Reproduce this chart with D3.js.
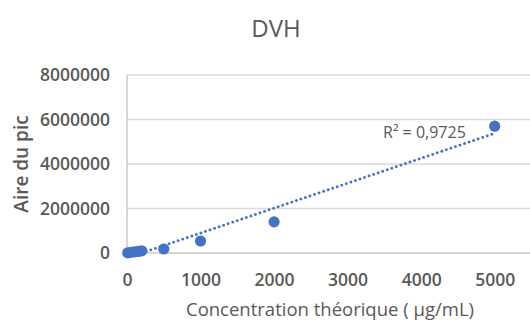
<!DOCTYPE html>
<html>
<head>
<meta charset="utf-8">
<script src="https://cdn.jsdelivr.net/npm/d3@7/dist/d3.min.js"></script>
<style>
  html, body { margin: 0; padding: 0; background: #fff; }
  svg { display: block; font-family: "Open Sans", "Liberation Sans", sans-serif; }
</style>
</head>
<body>
<svg id="chart" width="530" height="323"></svg>
<script>
// Calibration: theoretical concentration (µg/mL) vs. peak area
const concentrations = [10, 50, 100, 150, 200, 500, 1000, 2000, 5000];
const peakAreas = [10000, 30000, 50000, 70000, 100000, 180000, 540000, 1400000, 5700000];
const xTicks = [0, 1000, 2000, 3000, 4000, 5000];
const yTicks = [0, 2000000, 4000000, 6000000, 8000000];
const xMax = 5480;
const yMax = 8000000;
const r2Label = "R² = 0,9725";

const svg = d3.select("#chart");
const margin = { left: 127, right: 0, top: 75, bottom: 70 };
const W = 530, H = 323;
const x = d3.scaleLinear().domain([0, xMax]).range([margin.left, W - margin.right]);
const y = d3.scaleLinear().domain([0, yMax]).range([H - margin.bottom, margin.top]);
const textCol = "#595959";
const blue = "#4472C4";

// Title
svg.append("text").attr("x", 276).attr("y", 37).attr("text-anchor", "middle")
  .attr("font-size", 24).attr("fill", textCol).text("DVH");

// Horizontal gridlines
svg.append("g").selectAll("line").data(yTicks.filter(d => d > 0)).join("line")
  .attr("x1", x(0)).attr("x2", x(xMax))
  .attr("y1", d => y(d)).attr("y2", d => y(d))
  .attr("stroke", "#d9d9d9").attr("stroke-width", 1.3);

// Axes
const fmt = d3.format("d");
const xAxis = d3.axisBottom(x).tickValues(xTicks).tickFormat(fmt).tickSize(0).tickPadding(21);
const yAxis = d3.axisLeft(y).tickValues(yTicks).tickFormat(fmt).tickSize(0).tickPadding(17);
const gx = svg.append("g").attr("transform", `translate(0,${y(0)})`).call(xAxis);
const gy = svg.append("g").attr("transform", `translate(${x(0)},0)`).call(yAxis);
[gx, gy].forEach(g => {
  g.select(".domain").attr("stroke", "#c8c8c8").attr("stroke-width", 1.4);
  g.selectAll("text").attr("font-size", 17.5).attr("font-weight", 600)
    .attr("fill", textCol).attr("font-family", "'Open Sans', sans-serif");
});
gx.select(".domain").attr("d", `M${x(0)},0H${x(xMax)}`);
gy.select(".domain").attr("d", `M0,${y(yMax)}V${y(0)}`);

// Linear least-squares trendline
const n = concentrations.length;
const mx = d3.mean(concentrations), my = d3.mean(peakAreas);
let sxy = 0, sxx = 0;
for (let i = 0; i < n; i++) {
  sxy += (concentrations[i] - mx) * (peakAreas[i] - my);
  sxx += (concentrations[i] - mx) ** 2;
}
const slope = sxy / sxx, intercept = my - slope * mx;
const xStart = Math.max(d3.min(concentrations), -intercept / slope);
const xEnd = d3.max(concentrations);

svg.append("line")
  .attr("x1", x(xStart)).attr("y1", y(slope * xStart + intercept))
  .attr("x2", x(xEnd)).attr("y2", y(slope * xEnd + intercept))
  .attr("stroke", blue).attr("stroke-width", 2.8)
  .attr("stroke-dasharray", "0.1,4.7").attr("stroke-linecap", "round");

// Data points
svg.append("g").selectAll("circle").data(concentrations).join("circle")
  .attr("cx", d => x(d)).attr("cy", (d, i) => y(peakAreas[i]))
  .attr("r", 5.6).attr("fill", blue);

// R² label
svg.append("text").attr("x", 383).attr("y", 138)
  .attr("font-size", 16).attr("fill", textCol).text(r2Label);

// Axis titles
svg.append("text").attr("x", 330).attr("y", 316).attr("text-anchor", "middle")
  .attr("font-size", 18.5).attr("fill", textCol).text("Concentration théorique ( µg/mL)");
svg.append("text").attr("transform", "translate(28,164) rotate(-90)")
  .attr("text-anchor", "middle").attr("font-size", 19).attr("font-weight", 600)
  .attr("fill", textCol).text("Aire du pic");
</script>
</body>
</html>
